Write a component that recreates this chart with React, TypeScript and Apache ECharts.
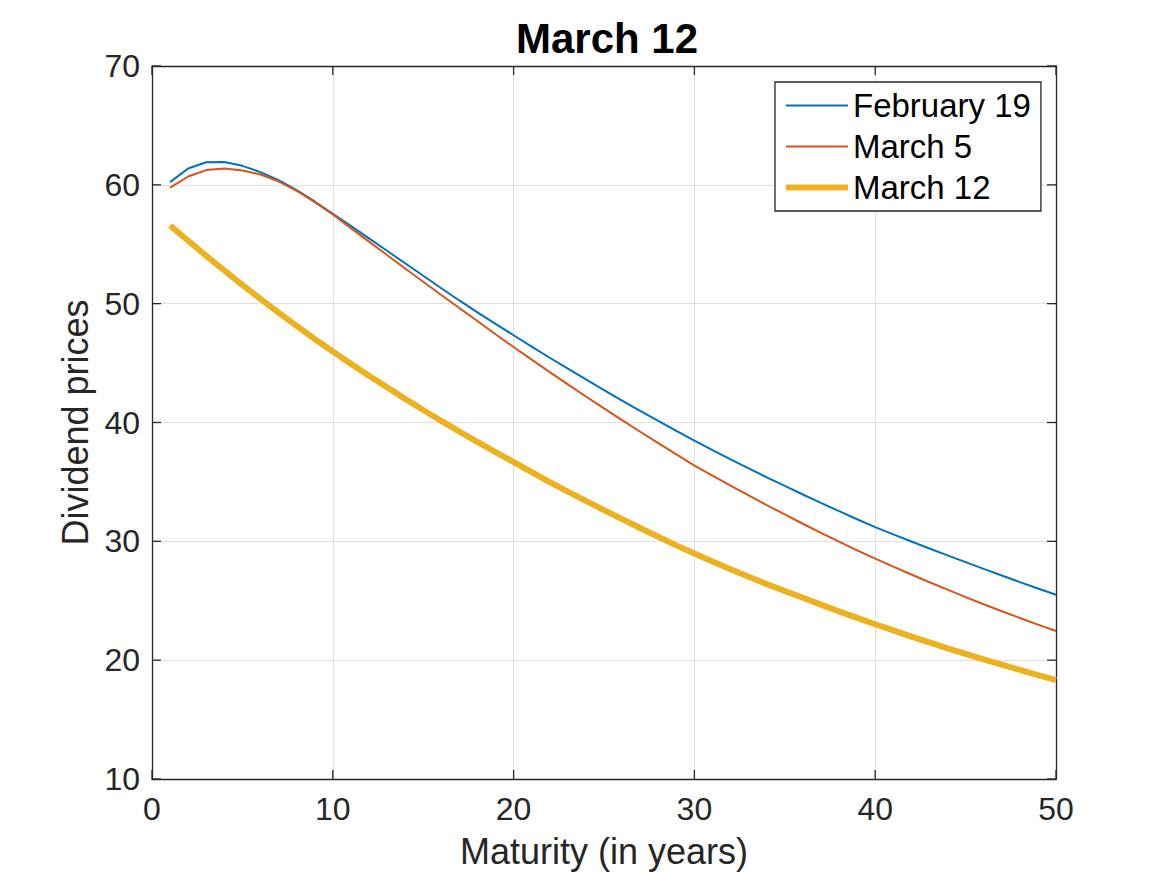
import React, { useEffect, useRef } from "react";
import * as echarts from "echarts";

const years: number[] = [
  1, 2, 3, 4, 5, 6, 7, 8, 9, 10, 11, 12, 13, 14, 15, 16, 17, 18, 19, 20, 21, 22, 23, 24, 25,
  26, 27, 28, 29, 30, 31, 32, 33, 34, 35, 36, 37, 38, 39, 40, 41, 42, 43, 44, 45, 46, 47, 48, 49, 50,
];

const february19: number[] = [
  60.23, 61.38, 61.9, 61.92, 61.6, 61.07, 60.4, 59.55, 58.6, 57.57,
  56.55, 55.5, 54.45, 53.4, 52.35, 51.3, 50.27, 49.27, 48.3, 47.34,
  46.39, 45.45, 44.53, 43.62, 42.73, 41.85, 40.98, 40.13, 39.29, 38.47,
  37.68, 36.9, 36.14, 35.39, 34.66, 33.94, 33.23, 32.54, 31.86, 31.2,
  30.59, 29.99, 29.4, 28.82, 28.25, 27.68, 27.12, 26.57, 26.03, 25.5,
];

const march5: number[] = [
  59.77, 60.7, 61.24, 61.38, 61.2, 60.87, 60.3, 59.5, 58.55, 57.5,
  56.36, 55.22, 54.09, 52.96, 51.84, 50.73, 49.63, 48.54, 47.43, 46.35,
  45.29, 44.24, 43.21, 42.19, 41.19, 40.2, 39.22, 38.26, 37.31, 36.37,
  35.52, 34.68, 33.86, 33.05, 32.26, 31.48, 30.72, 29.97, 29.24, 28.54,
  27.87, 27.21, 26.56, 25.93, 25.31, 24.71, 24.12, 23.55, 22.99, 22.45,
];

const march12: number[] = [
  56.58, 55.29, 54.02, 52.79, 51.58, 50.4, 49.25, 48.13, 47.03, 45.98,
  44.95, 43.94, 42.96, 41.99, 41.05, 40.13, 39.23, 38.36, 37.51, 36.67,
  35.82, 34.99, 34.18, 33.4, 32.63, 31.87, 31.12, 30.38, 29.66, 28.97,
  28.3, 27.65, 27.02, 26.4, 25.82, 25.25, 24.67, 24.11, 23.56, 23.02,
  22.5, 21.98, 21.49, 21.0, 20.53, 20.07, 19.62, 19.18, 18.75, 18.32,
];

const seriesNames: string[] = ["February 19", "March 5", "March 12"];
const xTicks: number[] = [0, 10, 20, 30, 40, 50];
const yTicks: number[] = [10, 20, 30, 40, 50, 60, 70];

const FONT = '"Liberation Sans", Arial, Helvetica, sans-serif';
const AXIS_COLOR = "#262626";
const TICK_LEN = 9;

export default function App() {
  const ref = useRef<HTMLDivElement>(null);

  useEffect(() => {
    if (!ref.current) return;
    const chart = echarts.init(ref.current, undefined, { renderer: "svg" });
    const toPairs = (vals: number[]) => years.map((y, i) => [y, vals[i]]);

    const baseX = {
      type: "value" as const,
      min: xTicks[0],
      max: xTicks[xTicks.length - 1],
      interval: 10,
    };
    const baseY = {
      type: "value" as const,
      min: yTicks[0],
      max: yTicks[yTicks.length - 1],
      interval: 10,
    };
    const axisLine = { show: true, onZero: false, lineStyle: { color: AXIS_COLOR, width: 1.3 } };

    chart.setOption({
      animation: false,
      backgroundColor: "#ffffff",
      title: {
        text: "March 12",
        left: 602,
        top: 12,
        textAlign: "center",
        textStyle: { fontFamily: FONT, fontSize: 42, fontWeight: "bold", color: "#000000" },
      },
      legend: {
        data: [
          { name: seriesNames[0] },
          { name: seriesNames[1] },
          { name: seriesNames[2], lineStyle: { width: 6 } },
        ],
        orient: "vertical",
        left: 775,
        top: 82,
        padding: [7, 10, 7, 8],
        itemGap: 8,
        itemWidth: 62,
        itemHeight: 14,
        borderColor: AXIS_COLOR,
        borderWidth: 1.3,
        backgroundColor: "#ffffff",
        itemStyle: { opacity: 0 },
        textStyle: { fontFamily: FONT, fontSize: 33, color: "#000000" },
      },
      grid: { left: 152, top: 66, width: 904, height: 713, containLabel: false },
      xAxis: [
        {
          ...baseX,
          position: "bottom",
          name: "Maturity (in years)",
          nameLocation: "middle",
          nameGap: 54,
          nameTextStyle: { fontFamily: FONT, fontSize: 36, color: AXIS_COLOR },
          axisLine,
          axisTick: { show: false },
          axisLabel: { fontFamily: FONT, fontSize: 32, color: AXIS_COLOR, margin: 14 },
          splitLine: { show: true, lineStyle: { color: "#dfdfdf", width: 1 } },
        },
        {
          ...baseX,
          position: "top",
          axisLine,
          axisTick: { show: false },
          axisLabel: { show: false },
          splitLine: { show: false },
        },
      ],
      yAxis: [
        {
          ...baseY,
          position: "left",
          name: "Dividend prices",
          nameLocation: "middle",
          nameGap: 55,
          nameRotate: 90,
          nameTextStyle: { fontFamily: FONT, fontSize: 36, color: AXIS_COLOR },
          axisLine,
          axisTick: { show: false },
          axisLabel: { fontFamily: FONT, fontSize: 32, color: AXIS_COLOR, margin: 12 },
          splitLine: { show: true, lineStyle: { color: "#dfdfdf", width: 1 } },
        },
        {
          ...baseY,
          position: "right",
          axisLine,
          axisTick: { show: false },
          axisLabel: { show: false },
          splitLine: { show: false },
        },
      ],
      series: [
        {
          name: seriesNames[0],
          type: "line",
          data: toPairs(february19),
          symbol: "none",
          lineStyle: { color: "#0072BD", width: 2 },
          itemStyle: { color: "#0072BD" },
          z: 3,
        },
        {
          name: seriesNames[1],
          type: "line",
          data: toPairs(march5),
          symbol: "none",
          lineStyle: { color: "#D95319", width: 2 },
          itemStyle: { color: "#D95319" },
          z: 4,
        },
        {
          name: seriesNames[2],
          type: "line",
          data: toPairs(march12),
          symbol: "none",
          lineStyle: { color: "#EDB120", width: 6 },
          itemStyle: { color: "#EDB120" },
          z: 5,
        },
      ],
    });

    // Inward-pointing ticks on all four sides (MATLAB box style), positioned via the axes' own scales.
    const left = chart.convertToPixel({ xAxisIndex: 0 }, xTicks[0]) as number;
    const right = chart.convertToPixel({ xAxisIndex: 0 }, xTicks[xTicks.length - 1]) as number;
    const bottom = chart.convertToPixel({ yAxisIndex: 0 }, yTicks[0]) as number;
    const top = chart.convertToPixel({ yAxisIndex: 0 }, yTicks[yTicks.length - 1]) as number;
    const tickStyle = { stroke: AXIS_COLOR, lineWidth: 1.3 };
    const ticks: any[] = [];
    xTicks.forEach((v) => {
      const px = chart.convertToPixel({ xAxisIndex: 0 }, v) as number;
      ticks.push({ type: "line", shape: { x1: px, y1: bottom, x2: px, y2: bottom - TICK_LEN }, style: tickStyle, z: 10 });
      ticks.push({ type: "line", shape: { x1: px, y1: top, x2: px, y2: top + TICK_LEN }, style: tickStyle, z: 10 });
    });
    yTicks.forEach((v) => {
      const py = chart.convertToPixel({ yAxisIndex: 0 }, v) as number;
      ticks.push({ type: "line", shape: { x1: left, y1: py, x2: left + TICK_LEN, y2: py }, style: tickStyle, z: 10 });
      ticks.push({ type: "line", shape: { x1: right, y1: py, x2: right - TICK_LEN, y2: py }, style: tickStyle, z: 10 });
    });
    chart.setOption({ graphic: ticks });

    return () => chart.dispose();
  }, []);

  return (
    <div
      ref={ref}
      style={{ position: "fixed", left: 0, top: 0, width: 1167, height: 875, background: "#ffffff" }}
    />
  );
}
